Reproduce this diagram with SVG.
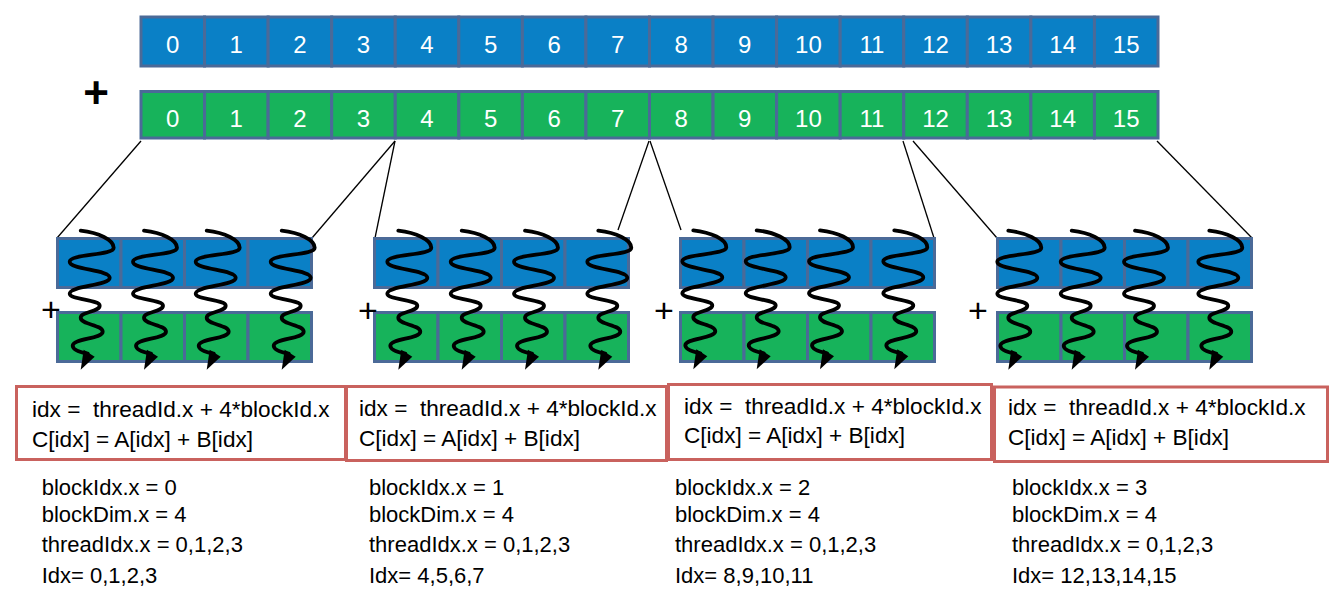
<svg xmlns="http://www.w3.org/2000/svg" width="1342" height="600" viewBox="0 0 1342 600">
<style>
.b{fill:#0a80c6;stroke:#4b6a98;stroke-width:3}
.g{fill:#17b35b;stroke:#4b6a98;stroke-width:3}
.d{font-family:"Liberation Sans",Arial,sans-serif;font-size:24px;fill:#ffffff;text-anchor:middle}
.t{font-family:"Liberation Sans",Arial,sans-serif;font-size:22px;fill:#000000;white-space:pre}
.k{font-family:"Liberation Sans",Arial,sans-serif;font-size:22.6px;fill:#000000;white-space:pre}
.box{fill:none;stroke:#c9625e;stroke-width:3}
.c{stroke:#000000;stroke-width:1.3;fill:none}
.pl{font-family:"Liberation Sans",Arial,sans-serif;font-size:34px;fill:#000000;text-anchor:middle}
</style>
<defs>
<g id="sq">
<path d="M0,0 C18,2 33,9 33,17 C33,25 -11,23 -11,31 C-11,39 29,39 29,47 C29,55 -11,55 -11,63 C-11,69 19,69 19,75 C19,81 0,81 0,87 C0,94 22,94 22,101 C22,108 -8,108 -8,115 C-8,120 2,122 7,123" fill="none" stroke="#000" stroke-width="3.8" stroke-linecap="round"/>
<polygon points="3,119 14,126 0,139" fill="#000"/>
</g>
</defs>
<rect width="1342" height="600" fill="#ffffff"/>

<g id="array-a">
<rect class="b" x="141" y="17" width="63.56" height="49"/><rect class="b" x="204.56" y="17" width="63.56" height="49"/><rect class="b" x="268.13" y="17" width="63.56" height="49"/><rect class="b" x="331.69" y="17" width="63.56" height="49"/><rect class="b" x="395.25" y="17" width="63.56" height="49"/><rect class="b" x="458.81" y="17" width="63.56" height="49"/><rect class="b" x="522.38" y="17" width="63.56" height="49"/><rect class="b" x="585.94" y="17" width="63.56" height="49"/><rect class="b" x="649.5" y="17" width="63.56" height="49"/><rect class="b" x="713.06" y="17" width="63.56" height="49"/><rect class="b" x="776.63" y="17" width="63.56" height="49"/><rect class="b" x="840.19" y="17" width="63.56" height="49"/><rect class="b" x="903.75" y="17" width="63.56" height="49"/><rect class="b" x="967.31" y="17" width="63.56" height="49"/><rect class="b" x="1030.88" y="17" width="63.56" height="49"/><rect class="b" x="1094.44" y="17" width="63.56" height="49"/>
<text class="d" x="172.8" y="53">0</text><text class="d" x="236.3" y="53">1</text><text class="d" x="299.9" y="53">2</text><text class="d" x="363.5" y="53">3</text><text class="d" x="427" y="53">4</text><text class="d" x="490.6" y="53">5</text><text class="d" x="554.2" y="53">6</text><text class="d" x="617.7" y="53">7</text><text class="d" x="681.3" y="53">8</text><text class="d" x="744.8" y="53">9</text><text class="d" x="808.4" y="53">10</text><text class="d" x="872" y="53">11</text><text class="d" x="935.5" y="53">12</text><text class="d" x="999.1" y="53">13</text><text class="d" x="1062.7" y="53">14</text><text class="d" x="1126.2" y="53">15</text>
</g>

<g id="plus-main"><text x="96" y="108" style="font-family:'Liberation Sans',Arial,sans-serif;font-size:44px;font-weight:bold;text-anchor:middle">+</text></g>

<g id="array-b">
<rect class="g" x="141" y="91.5" width="63.56" height="46.5"/><rect class="g" x="204.56" y="91.5" width="63.56" height="46.5"/><rect class="g" x="268.13" y="91.5" width="63.56" height="46.5"/><rect class="g" x="331.69" y="91.5" width="63.56" height="46.5"/><rect class="g" x="395.25" y="91.5" width="63.56" height="46.5"/><rect class="g" x="458.81" y="91.5" width="63.56" height="46.5"/><rect class="g" x="522.38" y="91.5" width="63.56" height="46.5"/><rect class="g" x="585.94" y="91.5" width="63.56" height="46.5"/><rect class="g" x="649.5" y="91.5" width="63.56" height="46.5"/><rect class="g" x="713.06" y="91.5" width="63.56" height="46.5"/><rect class="g" x="776.63" y="91.5" width="63.56" height="46.5"/><rect class="g" x="840.19" y="91.5" width="63.56" height="46.5"/><rect class="g" x="903.75" y="91.5" width="63.56" height="46.5"/><rect class="g" x="967.31" y="91.5" width="63.56" height="46.5"/><rect class="g" x="1030.88" y="91.5" width="63.56" height="46.5"/><rect class="g" x="1094.44" y="91.5" width="63.56" height="46.5"/>
<text class="d" x="172.8" y="127">0</text><text class="d" x="236.3" y="127">1</text><text class="d" x="299.9" y="127">2</text><text class="d" x="363.5" y="127">3</text><text class="d" x="427" y="127">4</text><text class="d" x="490.6" y="127">5</text><text class="d" x="554.2" y="127">6</text><text class="d" x="617.7" y="127">7</text><text class="d" x="681.3" y="127">8</text><text class="d" x="744.8" y="127">9</text><text class="d" x="808.4" y="127">10</text><text class="d" x="872" y="127">11</text><text class="d" x="935.5" y="127">12</text><text class="d" x="999.1" y="127">13</text><text class="d" x="1062.7" y="127">14</text><text class="d" x="1126.2" y="127">15</text>
</g>

<g id="connectors">
<line class="c" x1="141" y1="141" x2="57" y2="238"/>
<line class="c" x1="395" y1="141" x2="312" y2="238"/>
<line class="c" x1="395" y1="141" x2="375" y2="238"/>
<line class="c" x1="649" y1="141" x2="618" y2="230"/>
<line class="c" x1="650" y1="141" x2="681" y2="230"/>
<line class="c" x1="903" y1="141" x2="934" y2="238"/>
<line class="c" x1="913" y1="141" x2="997" y2="238"/>
<line class="c" x1="1157" y1="141" x2="1252" y2="238"/>
</g>

<g id="block-0">
<rect class="b" x="57.5" y="238.5" width="63.5" height="49"/><rect class="b" x="121" y="238.5" width="63.5" height="49"/><rect class="b" x="184.5" y="238.5" width="63.5" height="49"/><rect class="b" x="248" y="238.5" width="63.5" height="49"/>
<rect class="g" x="57.5" y="312.5" width="63.5" height="49"/><rect class="g" x="121" y="312.5" width="63.5" height="49"/><rect class="g" x="184.5" y="312.5" width="63.5" height="49"/><rect class="g" x="248" y="312.5" width="63.5" height="49"/>
<text class="pl" x="51" y="321">+</text>
<use href="#sq" x="80.7" y="230.7"/><use href="#sq" x="144" y="230.7"/><use href="#sq" x="206.7" y="230.7"/><use href="#sq" x="281.7" y="230.7"/>
</g>

<g id="block-1">
<rect class="b" x="374.5" y="238.5" width="63.5" height="49"/><rect class="b" x="438" y="238.5" width="63.5" height="49"/><rect class="b" x="501.5" y="238.5" width="63.5" height="49"/><rect class="b" x="565" y="238.5" width="63.5" height="49"/>
<rect class="g" x="374.5" y="312.5" width="63.5" height="49"/><rect class="g" x="438" y="312.5" width="63.5" height="49"/><rect class="g" x="501.5" y="312.5" width="63.5" height="49"/><rect class="g" x="565" y="312.5" width="63.5" height="49"/>
<text class="pl" x="368" y="322">+</text>
<use href="#sq" x="398.3" y="230.7"/><use href="#sq" x="461.7" y="230.7"/><use href="#sq" x="525" y="230.7"/><use href="#sq" x="598.3" y="230.7"/>
</g>

<g id="block-2">
<rect class="b" x="680.5" y="238.5" width="63.5" height="49"/><rect class="b" x="744" y="238.5" width="63.5" height="49"/><rect class="b" x="807.5" y="238.5" width="63.5" height="49"/><rect class="b" x="871" y="238.5" width="63.5" height="49"/>
<rect class="g" x="680.5" y="312.5" width="63.5" height="49"/><rect class="g" x="744" y="312.5" width="63.5" height="49"/><rect class="g" x="807.5" y="312.5" width="63.5" height="49"/><rect class="g" x="871" y="312.5" width="63.5" height="49"/>
<text class="pl" x="664" y="322">+</text>
<use href="#sq" x="693.3" y="230.3"/><use href="#sq" x="756.7" y="230.3"/><use href="#sq" x="820" y="230.3"/><use href="#sq" x="894.3" y="230.3"/>
</g>

<g id="block-3">
<rect class="b" x="997.5" y="238.5" width="63.5" height="49"/><rect class="b" x="1061" y="238.5" width="63.5" height="49"/><rect class="b" x="1124.5" y="238.5" width="63.5" height="49"/><rect class="b" x="1188" y="238.5" width="63.5" height="49"/>
<rect class="g" x="997.5" y="312.5" width="63.5" height="49"/><rect class="g" x="1061" y="312.5" width="63.5" height="49"/><rect class="g" x="1124.5" y="312.5" width="63.5" height="49"/><rect class="g" x="1188" y="312.5" width="63.5" height="49"/>
<text class="pl" x="978" y="322">+</text>
<use href="#sq" x="1008.3" y="230.7"/><use href="#sq" x="1071.7" y="230.7"/><use href="#sq" x="1135" y="230.7"/><use href="#sq" x="1209.3" y="230.7"/>
</g>

<g id="code-0">
<rect class="box" x="16.5" y="386.5" width="329" height="73"/>
<text class="k" x="32" y="417">idx =  threadId.x + 4*blockId.x</text>
<text class="k" x="32" y="447">C[idx] = A[idx] + B[idx]</text>
</g>
<g id="code-1">
<rect class="box" x="346.5" y="386.5" width="320" height="74"/>
<text class="k" x="359" y="416">idx =  threadId.x + 4*blockId.x</text>
<text class="k" x="359" y="446">C[idx] = A[idx] + B[idx]</text>
</g>
<g id="code-2">
<rect class="box" x="668.5" y="384.5" width="323" height="75"/>
<text class="k" x="684" y="414">idx =  threadId.x + 4*blockId.x</text>
<text class="k" x="684" y="443">C[idx] = A[idx] + B[idx]</text>
</g>
<g id="code-3">
<rect class="box" x="994.5" y="387" width="333" height="74.5"/>
<text class="k" x="1008" y="415">idx =  threadId.x + 4*blockId.x</text>
<text class="k" x="1008" y="445">C[idx] = A[idx] + B[idx]</text>
</g>

<g id="info-0">
<text class="t" x="41.7" y="495">blockIdx.x = 0</text>
<text class="t" x="41.7" y="522">blockDim.x = 4</text>
<text class="t" x="41.7" y="552">threadIdx.x = 0,1,2,3</text>
<text class="t" x="41.7" y="583">Idx= 0,1,2,3</text>
</g>
<g id="info-1">
<text class="t" x="369" y="495">blockIdx.x = 1</text>
<text class="t" x="369" y="522">blockDim.x = 4</text>
<text class="t" x="369" y="552">threadIdx.x = 0,1,2,3</text>
<text class="t" x="369" y="583">Idx= 4,5,6,7</text>
</g>
<g id="info-2">
<text class="t" x="675" y="495">blockIdx.x = 2</text>
<text class="t" x="675" y="522">blockDim.x = 4</text>
<text class="t" x="675" y="552">threadIdx.x = 0,1,2,3</text>
<text class="t" x="675" y="583">Idx= 8,9,10,11</text>
</g>
<g id="info-3">
<text class="t" x="1012" y="495">blockIdx.x = 3</text>
<text class="t" x="1012" y="522">blockDim.x = 4</text>
<text class="t" x="1012" y="552">threadIdx.x = 0,1,2,3</text>
<text class="t" x="1012" y="583">Idx= 12,13,14,15</text>
</g>
</svg>
